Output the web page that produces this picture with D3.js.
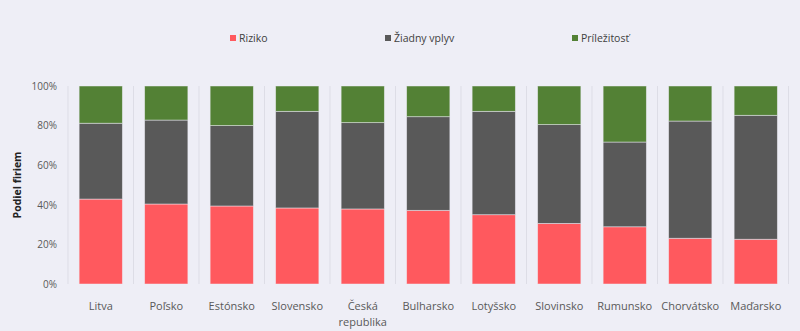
<!DOCTYPE html>
<html>
<head>
<meta charset="utf-8">
<script src="https://cdn.jsdelivr.net/npm/d3@7"></script>
<style>
  html, body { margin: 0; padding: 0; background: #EEEEF6; }
  svg { display: block; font-family: "Open Sans", "Noto Sans", sans-serif; }
</style>
</head>
<body>
<svg id="chart" width="800" height="331"></svg>
<script>
// Share of firms by country: risk / no impact / opportunity
const countries = ["Litva", "Poľsko", "Estónsko", "Slovensko", "Česká republika", "Bulharsko",
                   "Lotyšsko", "Slovinsko", "Rumunsko", "Chorvátsko", "Maďarsko"];
const riziko      = [42.9, 40.4, 39.4, 38.4, 37.9, 37.2, 35.0, 30.6, 28.9, 23.1, 22.6];
const ziadnyVplyv = [38.3, 42.4, 40.6, 48.8, 43.6, 47.3, 52.2, 49.9, 42.8, 59.2, 62.6];
const prilezitost = [18.8, 17.2, 20.0, 12.8, 18.5, 15.5, 12.8, 19.5, 28.3, 17.7, 14.8];
const seriesNames = ["Riziko", "Žiadny vplyv", "Príležitosť"];
const seriesColors = ["#FF595E", "#595959", "#538135"];
const yTicks = [0, 20, 40, 60, 80, 100];

const rows = countries.map((c, i) => ({
  country: c, "Riziko": riziko[i], "Žiadny vplyv": ziadnyVplyv[i], "Príležitosť": prilezitost[i]
}));

const svg = d3.select("#chart");
const plotTop = 86, plotBottom = 284, plotLeft = 68, plotRight = 788.5;

const x = d3.scaleBand().domain(countries).range([plotLeft, plotRight])
  .paddingInner(0.34).paddingOuter(0.17);
const y = d3.scaleLinear().domain([0, 100]).range([plotBottom, plotTop]);

// vertical category separators
const step = x.step();
svg.append("g").selectAll("line")
  .data(d3.range(countries.length + 1))
  .join("line")
  .attr("x1", i => plotLeft + i * step).attr("x2", i => plotLeft + i * step)
  .attr("y1", plotTop).attr("y2", plotBottom)
  .attr("stroke", "#DDDDE6").attr("stroke-width", 1);

// stacked bars
const stack = d3.stack().keys(seriesNames)(rows);
svg.append("g").selectAll("g")
  .data(stack)
  .join("g")
  .attr("fill", (d, i) => seriesColors[i])
  .selectAll("rect")
  .data(d => d)
  .join("rect")
  .attr("x", d => x(d.data.country))
  .attr("width", x.bandwidth())
  .attr("y", d => y(d[1]))
  .attr("height", d => y(d[0]) - y(d[1]))
  .attr("stroke", "#EEEEF6").attr("stroke-opacity", 0.6).attr("stroke-width", 0.8);

// y axis (labels only)
const yAxis = d3.axisLeft(y).tickValues(yTicks).tickFormat(d => d + "%").tickSize(0).tickPadding(0);
const yg = svg.append("g").attr("transform", `translate(57,0)`).call(yAxis);
yg.select(".domain").remove();
yg.selectAll("text").attr("fill", "#595959").style("font-size", "10px")
  .style("font-family", "'Open Sans', 'Noto Sans', sans-serif");

// y axis title
svg.append("text")
  .attr("transform", `translate(21,${(plotTop + plotBottom) / 2}) rotate(-90)`)
  .attr("text-anchor", "middle")
  .attr("fill", "#222")
  .style("font-size", "10.5px").style("font-weight", "bold")
  .text("Podiel firiem");

// x axis category labels (wrapped at spaces for long names)
const xAxis = d3.axisBottom(x).tickSize(0).tickPadding(0);
const xg = svg.append("g").attr("transform", `translate(0,${plotBottom})`).call(xAxis);
xg.select(".domain").remove();
xg.selectAll("text").each(function (d) {
  const t = d3.select(this);
  t.text(null).attr("y", 0).attr("dy", null)
    .attr("fill", "#595959").style("font-size", "11px")
    .style("font-family", "'Open Sans', 'Noto Sans', sans-serif");
  const words = d.length > 12 ? d.split(" ") : [d];
  words.forEach((w, k) => {
    t.append("tspan").attr("x", 0).attr("y", 26 + k * 16).text(w);
  });
});

// legend
const legendX = [230, 385, 572];
const lg = svg.append("g").selectAll("g")
  .data(seriesNames)
  .join("g")
  .attr("transform", (d, i) => `translate(${legendX[i]},38)`);
lg.append("rect").attr("x", 0).attr("y", -3).attr("width", 6).attr("height", 6)
  .attr("fill", (d, i) => seriesColors[i]);
lg.append("text").attr("x", 9).attr("y", 0).attr("dy", "0.35em")
  .attr("fill", "#404040").style("font-size", "10.5px").text(d => d);
</script>
</body>
</html>
